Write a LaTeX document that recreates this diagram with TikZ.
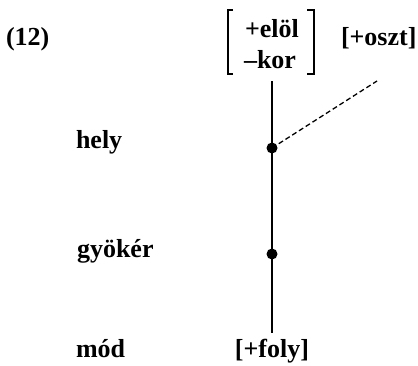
\documentclass[tikz,border=0pt]{standalone}
\usepackage{fontspec}
\setmainfont{Liberation Serif}
\begin{document}
\begin{tikzpicture}[x=1pt,y=-1pt,
  lab/.style={inner sep=0pt,outer sep=0pt,font=\fontsize{26}{31}\selectfont\bfseries},
  dot/.style={circle,fill=black,inner sep=0pt,minimum size=11pt},
  solidline/.style={line width=1.8pt},
  dashline/.style={line width=1.3pt,dash pattern=on 5pt off 3pt},
  brack/.style={line width=1.8pt}]
\useasboundingbox (0,0) rectangle (418,365);
\node[lab,anchor=base west] (num) at (6,45) {(12)};
\node[lab,anchor=base west] (hely) at (76,148) {hely};
\node[lab,anchor=base west] (gyoker) at (77,257) {gyökér};
\node[lab,anchor=base west] (mod) at (76,357) {mód};
\node[lab,anchor=base] (foly) at (272,357) {[+foly]};
\node[lab,anchor=base west] (oszt) at (341,45) {[+oszt]};
\node[lab,anchor=base west] (elol) at (245,37) {+elöl};
\node[lab,anchor=base west] (kor) at (244,68) {–kor};
\draw[brack] (233,10) -- (228,10) -- (228,74) -- (233,74);
\draw[brack] (307,10) -- (314,10) -- (314,74) -- (307,74);
\coordinate (top) at (272,81);
\coordinate (bot) at (272,333);
\coordinate (dend) at (377,81);
\node[dot] (d1) at (272,148) {};
\node[dot] (d2) at (272,254) {};
\draw[solidline] (top) -- (d1.center) -- (d2.center) -- (bot);
\draw[dashline] (d1.center) -- (dend);
\end{tikzpicture}
\end{document}
